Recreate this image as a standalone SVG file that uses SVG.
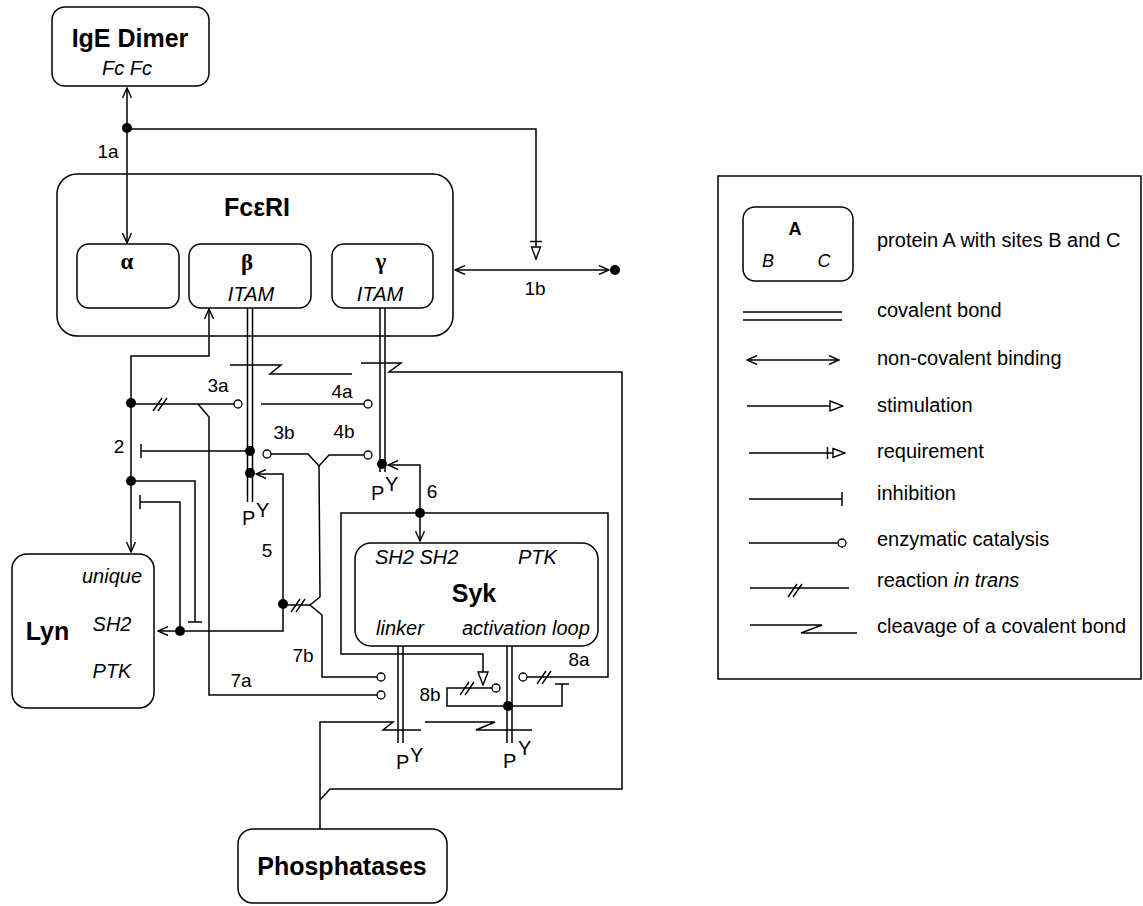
<svg xmlns="http://www.w3.org/2000/svg" width="1143" height="906" viewBox="0 0 1143 906">
<style>
.ln{stroke:#000;stroke-width:1.5;fill:none}
.box{fill:#fff;stroke:#000;stroke-width:1.5}
.dot{fill:#000}
.cat{fill:#fff;stroke:#000;stroke-width:1.3}
.t{font-family:"Liberation Sans",Arial,Helvetica,sans-serif;fill:#000}
.title{font-size:25px;font-weight:bold;text-anchor:middle}
.site{font-size:20px;font-style:italic}
.mid{text-anchor:middle}
.lab{font-size:19px;text-anchor:middle}
.py{font-size:20px}
.greek{font-family:"Liberation Serif","Times New Roman",serif;font-weight:bold;font-size:23px;text-anchor:middle}
.leg{font-size:20px}
</style>
<defs>
<marker id="arr" viewBox="0 0 12 10" refX="11" refY="5" markerWidth="12" markerHeight="10" orient="auto-start-reverse" markerUnits="userSpaceOnUse"><path d="M1,0.5 L11,5 L1,9.5" fill="none" stroke="#000" stroke-width="1.4"/></marker>
<marker id="stim" viewBox="0 0 15 12" refX="14" refY="6" markerWidth="15" markerHeight="12" orient="auto" markerUnits="userSpaceOnUse"><path d="M1,1 L14,6 L1,11 Z" fill="#fff" stroke="#000" stroke-width="1.4"/></marker>
<marker id="req" viewBox="0 0 20 13" refX="19" refY="6.5" markerWidth="20" markerHeight="13" orient="auto" markerUnits="userSpaceOnUse"><path d="M1.5,0.5 L1.5,12.5" stroke="#000" stroke-width="1.5"/><path d="M7,2 L19,6.5 L7,11 Z" fill="#fff" stroke="#000" stroke-width="1.4"/></marker>
<marker id="inh" viewBox="0 0 4 14" refX="2" refY="7" markerWidth="4" markerHeight="14" orient="auto" markerUnits="userSpaceOnUse"><path d="M2,0 L2,14" stroke="#000" stroke-width="1.5"/></marker>
<g id="trans"><path d="M-7,7 L2,-6 M-2,7 L7,-6" stroke="#000" stroke-width="1.4" fill="none"/></g>
</defs>

<g id="connectors">
  <!-- 1a -->
  <path class="ln" d="M127,88 L127,243" marker-start="url(#arr)" marker-end="url(#arr)"/>
  <circle class="dot" cx="127" cy="128" r="5"/>
  <path class="ln" d="M127,129 L536,129 L536,259" marker-end="url(#req)"/>
  <!-- 1b -->
  <path class="ln" d="M455,270 L609,270" marker-start="url(#arr)" marker-end="url(#arr)"/>
  <circle class="dot" cx="615" cy="270" r="5"/>
  <!-- 2 -->
  <path class="ln" d="M209,309 L209,356 L131,356 L131,552" marker-start="url(#arr)" marker-end="url(#arr)"/>
  <circle class="dot" cx="131" cy="403" r="5"/>
  <circle class="dot" cx="131" cy="481" r="5"/>
  <!-- 3a / 4a -->
  <path class="ln" d="M131,404 L234,404"/>
  <use href="#trans" x="160" y="404"/>
  <circle class="cat" cx="238" cy="404" r="4"/>
  <path class="ln" d="M198,404 L209,417 L209,695 L377,695"/>
  <circle class="cat" cx="381" cy="695" r="4"/>
  <path class="ln" d="M261,404 L364,404"/>
  <circle class="cat" cx="368" cy="404" r="4"/>
  <!-- beta inhibits 2 -->
  <path class="ln" d="M250,451 L141,451" marker-end="url(#inh)"/>
  <!-- 3b / 4b -->
  <circle class="cat" cx="267" cy="454" r="4"/>
  <path class="ln" d="M271,454 L308,454 L319,466 L329,455 L364,455"/>
  <circle class="cat" cx="368" cy="455" r="4"/>
  <path class="ln" d="M319,466 L320,597 L310,605 L322,615 L322,677 L377,677"/>
  <circle class="cat" cx="381" cy="677" r="4"/>
  <path class="ln" d="M283,605 L310,605"/>
  <use href="#trans" x="298" y="605"/>
  <!-- 5 -->
  <path class="ln" d="M256,474 L283,474 L283,631 L158,631" marker-start="url(#arr)" marker-end="url(#arr)"/>
  <circle class="dot" cx="283" cy="604" r="5"/>
  <circle class="dot" cx="180" cy="631" r="5"/>
  <path class="ln" d="M180,631 L180,502 L140,502" marker-end="url(#inh)"/>
  <path class="ln" d="M131,481 L195,481 L195,622" marker-end="url(#inh)"/>
  <!-- covalent bonds -->
  <path class="ln" d="M247.5,308 L247.5,502 M252.5,308 L252.5,502"/>
  <path class="ln" d="M380,307 L380,472 M385,307 L385,472"/>
  <path class="ln" d="M398,646 L398,743 M403,646 L403,743"/>
  <path class="ln" d="M507,646 L507,743 M512,646 L512,743"/>
  <circle class="dot" cx="250" cy="451" r="5"/>
  <circle class="dot" cx="250" cy="473" r="5"/>
  <circle class="dot" cx="382" cy="464" r="5"/>
  <!-- 6 -->
  <path class="ln" d="M388,465 L420,465 L420,541" marker-start="url(#arr)" marker-end="url(#arr)"/>
  <circle class="dot" cx="420" cy="513" r="5"/>
  <path class="ln" d="M420,513 L341,513 L341,654 L483,654 L483,685" marker-end="url(#stim)"/>
  <path class="ln" d="M420,513 L608,513 L608,677 L527,677"/>
  <circle class="cat" cx="523" cy="677" r="4"/>
  <use href="#trans" x="544" y="677"/>
  <!-- 8b -->
  <path class="ln" d="M508,706 L447,706 L447,688 L492,688"/>
  <circle class="cat" cx="496" cy="688" r="4"/>
  <use href="#trans" x="467" y="688"/>
  <path class="ln" d="M508,706 L562,706 L562,684" marker-end="url(#inh)"/>
  <circle class="dot" cx="508" cy="706" r="5"/>
  <!-- cleavages -->
  <path class="ln" d="M230,365 L281,365 L270,374 L352,374"/>
  <path class="ln" d="M361,363 L401,363 L389,372 L622,372 L622,789 L330,789 L320,800"/>
  <path class="ln" d="M320,829 L320,722 L393,722 L383,730 L421,730"/>
  <path class="ln" d="M425,722 L495,722 L476,730 L532,730"/>
  <!-- PY labels -->
  <text class="t py" x="242" y="525">P</text><text class="t py" x="256" y="517">Y</text>
  <text class="t py" x="371" y="500">P</text><text class="t py" x="385" y="491">Y</text>
  <text class="t py" x="396" y="769">P</text><text class="t py" x="410" y="762">Y</text>
  <text class="t py" x="503" y="768">P</text><text class="t py" x="518" y="755">Y</text>
  <!-- labels -->
  <text class="t lab" x="108" y="158">1a</text>
  <text class="t lab" x="535" y="295">1b</text>
  <text class="t lab" x="119" y="453">2</text>
  <text class="t lab" x="218" y="392">3a</text>
  <text class="t lab" x="342" y="398">4a</text>
  <text class="t lab" x="284" y="439">3b</text>
  <text class="t lab" x="344" y="438">4b</text>
  <text class="t lab" x="267" y="557">5</text>
  <text class="t lab" x="432" y="498">6</text>
  <text class="t lab" x="241" y="687">7a</text>
  <text class="t lab" x="303" y="662">7b</text>
  <text class="t lab" x="579" y="666">8a</text>
  <text class="t lab" x="430" y="701">8b</text>
</g>

<g id="ige">
  <rect class="box" x="52" y="7" width="157" height="79" rx="13"/>
  <text class="t title" x="130" y="47">IgE Dimer</text>
  <text class="t site mid" x="127" y="75">Fc Fc</text>
</g>

<g id="fceri">
  <rect class="box" x="57" y="174" width="396" height="162" rx="20" style="fill:none"/>
  <text class="t title" x="257" y="216">FcεRI</text>
  <g id="alpha"><rect class="box" x="77" y="244" width="102" height="64" rx="12"/><text class="greek" x="127" y="269">α</text></g>
  <g id="beta"><rect class="box" x="189" y="244" width="122" height="64" rx="12"/><text class="greek" x="247" y="270">β</text><text class="t site mid" x="251" y="301">ITAM</text></g>
  <g id="gamma"><rect class="box" x="332" y="244" width="101" height="64" rx="12"/><text class="greek" x="381" y="269">γ</text><text class="t site mid" x="380" y="301">ITAM</text></g>
</g>

<g id="lyn">
  <rect class="box" x="12" y="554" width="142" height="154" rx="15"/>
  <text class="t title" x="47.5" y="640">Lyn</text>
  <text class="t site mid" x="112" y="583">unique</text>
  <text class="t site mid" x="112" y="631">SH2</text>
  <text class="t site mid" x="112" y="678">PTK</text>
</g>

<g id="syk">
  <rect class="box" x="355" y="543" width="243" height="103" rx="16"/>
  <text class="t site" x="375" y="564">SH2 SH2</text>
  <text class="t site" x="518" y="564">PTK</text>
  <text class="t title" x="474" y="602">Syk</text>
  <text class="t site" x="376" y="635">linker</text>
  <text class="t site" x="462" y="635">activation loop</text>
</g>

<g id="phosphatases">
  <rect class="box" x="238" y="829" width="209" height="74" rx="15"/>
  <text class="t title" x="342" y="875">Phosphatases</text>
</g>

<g id="legend">
  <rect class="box" x="718" y="176" width="423" height="503" rx="0"/>
  <rect class="box" x="743" y="207" width="110" height="74" rx="12"/>
  <text class="t mid" x="795" y="235" style="font-size:18px;font-weight:bold">A</text>
  <text class="t mid" x="768" y="267" style="font-size:18px;font-style:italic">B</text>
  <text class="t mid" x="824" y="267" style="font-size:18px;font-style:italic">C</text>
  <text class="t leg" x="877" y="247">protein A with sites B and C</text>
  <path class="ln" d="M743,312 L842,312 M743,320 L842,320"/>
  <text class="t leg" x="877" y="317">covalent bond</text>
  <path class="ln" d="M747,360 L839,360" marker-start="url(#arr)" marker-end="url(#arr)"/>
  <text class="t leg" x="877" y="365">non-covalent binding</text>
  <path class="ln" d="M747,406 L843,406" marker-end="url(#stim)"/>
  <text class="t leg" x="877" y="412">stimulation</text>
  <path class="ln" d="M749,453 L845,453" marker-end="url(#req)"/>
  <text class="t leg" x="877" y="458">requirement</text>
  <path class="ln" d="M749,499 L842,499" marker-end="url(#inh)"/>
  <text class="t leg" x="877" y="500">inhibition</text>
  <path class="ln" d="M749,543 L838,543"/>
  <circle class="cat" cx="842" cy="543" r="4"/>
  <text class="t leg" x="877" y="546">enzymatic catalysis</text>
  <path class="ln" d="M750,588 L849,588"/>
  <use href="#trans" x="795" y="590"/>
  <text class="t leg" x="877" y="587">reaction <tspan style="font-style:italic">in trans</tspan></text>
  <path class="ln" d="M750,625 L822,625 L801,633 L857,633"/>
  <text class="t leg" x="877" y="633">cleavage of a covalent bond</text>
</g>
</svg>
